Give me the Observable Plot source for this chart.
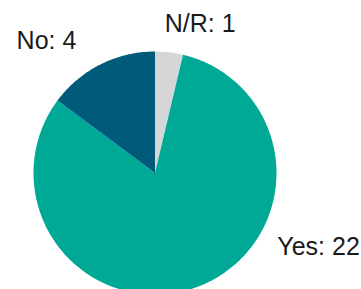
<!DOCTYPE html>
<html>
<head>
<meta charset="utf-8">
<script src="https://cdn.jsdelivr.net/npm/d3@7"></script>
<script src="https://cdn.jsdelivr.net/npm/@observablehq/plot@0.6"></script>
<style>
  html, body { margin: 0; padding: 0; background: #fff; }
  #chart svg { overflow: hidden; display: block; }
</style>
</head>
<body>
<div id="chart"></div>
<script>
// Data
const categories = ["N/R", "Yes", "No"];
const counts = [1, 22, 4];
const colors = ["#d5d6d8", "#00a896", "#005a7a"];

// Layout (pixels)
const W = 361, H = 289;
const cx = 154.5, cy = 172.5, R = 121.5;
const labelOffsets = { "N/R": [31, -28], "No": [-54, -23], "Yes": [122, -40] };

const data = categories.map((c, i) => ({ key: c, count: counts[i] }));
const arcs = d3.pie().sort(null).value(d => d.count)(data);

// polygon points for each slice (unit circle, y up, angle clockwise from top)
const pts = [];
for (const a of arcs) {
  const n = Math.max(8, Math.ceil((a.endAngle - a.startAngle) * 60));
  pts.push({ key: a.data.key, x: 0, y: 0 });
  for (let k = 0; k <= n; k++) {
    const t = a.startAngle + (a.endAngle - a.startAngle) * k / n;
    pts.push({ key: a.data.key, x: Math.sin(t), y: Math.cos(t) });
  }
  pts.push({ key: a.data.key, x: 0, y: 0 });
}

const labels = arcs.map(a => {
  const m = (a.startAngle + a.endAngle) / 2;
  return { key: a.data.key, text: `${a.data.key}: ${a.data.count}`, x: Math.sin(m), y: Math.cos(m) };
});

const textMarks = labels.map(l => Plot.text([l], {
  x: "x", y: "y", text: "text",
  dx: labelOffsets[l.key][0], dy: labelOffsets[l.key][1],
  textAnchor: "middle", lineAnchor: "middle",
  fill: "#1a1a1a", fontSize: 25,
  fontFamily: "'Liberation Sans', Arial, Helvetica, sans-serif"
}));

const chart = Plot.plot({
  width: W, height: H,
  margin: 0,
  x: { domain: [-cx / R, (W - cx) / R], axis: null },
  y: { domain: [-(H - cy) / R, cy / R], axis: null },
  color: { domain: categories, range: colors },
  style: { background: "#fff", overflow: "hidden" },
  marks: [
    Plot.line(pts, { x: "x", y: "y", z: "key", fill: "key", stroke: "none", curve: "linear" }),
    ...textMarks
  ]
});
document.getElementById("chart").appendChild(chart);
</script>
</body>
</html>
